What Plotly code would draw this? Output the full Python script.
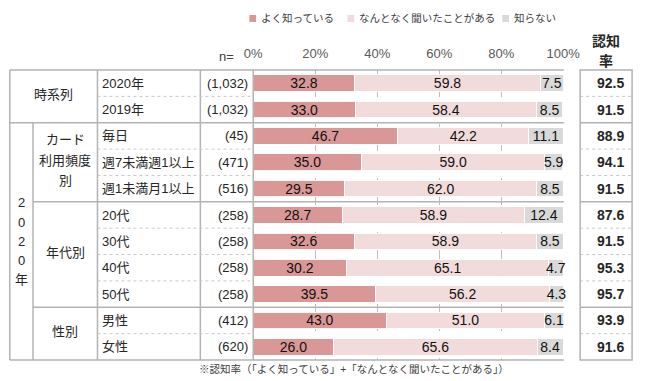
import plotly.graph_objects as go

# ---------------- data ----------------
categories = ["2020年", "2019年", "毎日", "週7未満週1以上", "週1未満月1以上",
              "20代", "30代", "40代", "50代", "男性", "女性"]
n_labels = ["(1,032)", "(1,032)", "(45)", "(471)", "(516)",
            "(258)", "(258)", "(258)", "(258)", "(412)", "(620)"]
well_known = [32.8, 33.0, 46.7, 35.0, 29.5, 28.7, 32.6, 30.2, 39.5, 43.0, 26.0]
heard = [59.8, 58.4, 42.2, 59.0, 62.0, 58.9, 58.9, 65.1, 56.2, 51.0, 65.6]
unknown = [7.5, 8.5, 11.1, 5.9, 8.5, 12.4, 8.5, 4.7, 4.3, 6.1, 8.4]
awareness = [92.5, 91.5, 88.9, 94.1, 91.5, 87.6, 91.5, 95.3, 95.7, 93.9, 91.6]
series_names = ["よく知っている", "なんとなく聞いたことがある", "知らない"]
series_colors = ["#D99795", "#F2DCDB", "#D9D9D9"]
group_labels = [["時系列"], ["カード", "利用頻度", "別"], ["年代別"], ["性別"]]
group_sizes = [2, 3, 4, 2]
outer_label = "2020年"
x_tickvals = [0, 20, 40, 60, 80, 100]
x_ticktext = ["0%", "20%", "40%", "60%", "80%", "100%"]
n_header = "n="
rate_header = ["認知", "率"]
footnote = "※認知率（「よく知っている」+「なんとなく聞いたことがある」）"

# ---------------- layout geometry (pixels) ----------------
W, H = 650, 381
TOP, BOT = 70, 360
PX0, PX1 = 254, 577
COLS = [0.8, 25, 92, 199, 254]
RX0, RX1 = 594, 648
nrows = len(categories)
rowh = (BOT - TOP) / nrows

def px(x):
    return x / W

def py(y):
    return 1 - y / H

FONT = "Liberation Sans, Noto Sans CJK JP, sans-serif"
TXT = "#262626"
LINE = "#B3B3B3"
DOT = "#C8C8C8"

fig = go.Figure()
for name, vals, col in zip(series_names, [well_known, heard, unknown], series_colors):
    fig.add_trace(go.Bar(
        y=categories, x=vals, name=name, orientation="h",
        marker=dict(color=col, line=dict(color="rgba(255,255,255,0.9)", width=1)),
        text=[f"{v:.1f}" for v in vals], textposition="inside",
        insidetextanchor="middle", textangle=0, cliponaxis=False,
        textfont=dict(family=FONT, size=14, color="#111111"),
        showlegend=False, hoverinfo="skip",
    ))

shapes = []
annotations = []

def hline(y, x0, x1, dash=None, color=LINE, width=1.5):
    shapes.append(dict(type="line", xref="paper", yref="paper",
                       x0=px(x0), x1=px(x1), y0=py(y), y1=py(y),
                       line=dict(color=color, width=width, dash=dash or "solid")))

def vline(x, y0, y1, color=LINE, width=1.5):
    shapes.append(dict(type="line", xref="paper", yref="paper",
                       x0=px(x), x1=px(x), y0=py(y0), y1=py(y1),
                       line=dict(color=color, width=width)))

edges = [TOP + i * rowh for i in range(nrows + 1)]
group_starts = [0]
for s in group_sizes:
    group_starts.append(group_starts[-1] + s)

hline(TOP, COLS[0], PX1)
hline(BOT, COLS[0], PX1)
vline(COLS[0], TOP, BOT)
vline(COLS[1], edges[group_starts[1]], BOT)
for c in COLS[2:]:
    vline(c, TOP, BOT)
for gi, gs in enumerate(group_starts[1:-1]):
    hline(edges[gs], COLS[0] if gi == 0 else COLS[1], PX1)
gset = set(group_starts)
for r in range(1, nrows):
    if r not in gset:
        hline(edges[r], COLS[2], COLS[4], dash="dot", color=DOT, width=1)
        hline(edges[r], RX0, RX1, dash="dot", color=DOT, width=1)
    else:
        hline(edges[r], RX0, RX1)
shapes.append(dict(type="rect", xref="paper", yref="paper",
                   x0=px(RX0), x1=px(RX1), y0=py(BOT), y1=py(TOP),
                   line=dict(color=LINE, width=1.5)))

for cat, nl, aw in zip(categories, n_labels, awareness):
    annotations.append(dict(xref="paper", yref="y", x=px(95), y=cat, text=cat,
                            xanchor="left", showarrow=False,
                            font=dict(family=FONT, size=13, color=TXT)))
    annotations.append(dict(xref="paper", yref="y", x=px(251), y=cat, text=nl,
                            xanchor="right", showarrow=False,
                            font=dict(family=FONT, size=13, color=TXT)))
    annotations.append(dict(xref="paper", yref="y", x=px(642), y=cat,
                            text=f"<b>{aw:.1f}</b>",
                            xanchor="right", showarrow=False,
                            font=dict(family=FONT, size=14, color=TXT)))

for gi, lines in enumerate(group_labels):
    yc = (edges[group_starts[gi]] + edges[group_starts[gi + 1]]) / 2
    xc = (COLS[0] + COLS[2]) / 2 if gi == 0 else (COLS[1] + COLS[2]) / 2
    nl = len(lines)
    for k, t in enumerate(lines):
        yy = yc - 2 + (k - (nl - 1) / 2) * 20.5
        annotations.append(dict(xref="paper", yref="paper", x=px(xc), y=py(yy),
                                text=t, showarrow=False, xanchor="center",
                                yanchor="middle",
                                font=dict(family=FONT, size=13, color=TXT)))

yc = (edges[group_starts[1]] + BOT) / 2
chars = list(outer_label)
for k, ch in enumerate(chars):
    yy = yc + (k - (len(chars) - 1) / 2) * 19.3
    annotations.append(dict(xref="paper", yref="paper", x=px(12.5), y=py(yy),
                            text=ch, showarrow=False, xanchor="center",
                            yanchor="middle",
                            font=dict(family=FONT, size=13, color=TXT)))

annotations.append(dict(xref="paper", yref="paper", x=px(236), y=py(57),
                        text=n_header, showarrow=False, xanchor="right",
                        yanchor="middle", font=dict(family=FONT, size=13, color="#404040")))
for k, t in enumerate(rate_header):
    annotations.append(dict(xref="paper", yref="paper", x=px(621), y=py(41 + 20 * k),
                            text=f"<b>{t}</b>", showarrow=False, xanchor="center",
                            yanchor="middle", font=dict(family=FONT, size=14, color=TXT)))

leg_x = [250, 352, 513]
for name, col, lx in zip(series_names, series_colors, leg_x):
    shapes.append(dict(type="rect", xref="paper", yref="paper",
                       x0=px(lx), x1=px(lx + 7), y0=py(22), y1=py(15),
                       line=dict(width=0), fillcolor=col))
    annotations.append(dict(xref="paper", yref="paper", x=px(lx + 10), y=py(18.5),
                            text=name, showarrow=False, xanchor="left",
                            yanchor="middle", font=dict(family=FONT, size=10.5, color="#404040")))

annotations.append(dict(xref="paper", yref="paper", x=px(359), y=py(369),
                        text=footnote, showarrow=False, xanchor="center",
                        yanchor="middle", font=dict(family=FONT, size=10.5, color="#404040")))

fig.update_layout(
    width=W, height=H, barmode="stack", bargap=0.37,
    margin=dict(l=0, r=0, t=0, b=0),
    paper_bgcolor="white", plot_bgcolor="white",
    font=dict(family=FONT),
    uniformtext=dict(minsize=14, mode="show"),
    shapes=shapes, annotations=annotations,
    xaxis=dict(domain=[px(PX0), px(PX1)], range=[0, 100.2], side="top",
               tickvals=x_tickvals, ticktext=x_ticktext,
               showgrid=True, gridcolor="#BFBFBF", griddash="dash", gridwidth=1,
               zeroline=False, showline=False, ticks="", ticklabelstandoff=8,
               tickfont=dict(family=FONT, size=13, color="#595959"), fixedrange=True),
    yaxis=dict(domain=[py(BOT), py(TOP)], categoryorder="array",
               categoryarray=categories, autorange=False, range=[nrows - 0.5, -0.5],
               showticklabels=False, showgrid=False, zeroline=False, showline=False,
               ticks="", fixedrange=True),
)

fig.write_html("out.html", config={"displayModeBar": False},
               post_script="document.body.style.margin='0';document.body.style.overflow='hidden';")
